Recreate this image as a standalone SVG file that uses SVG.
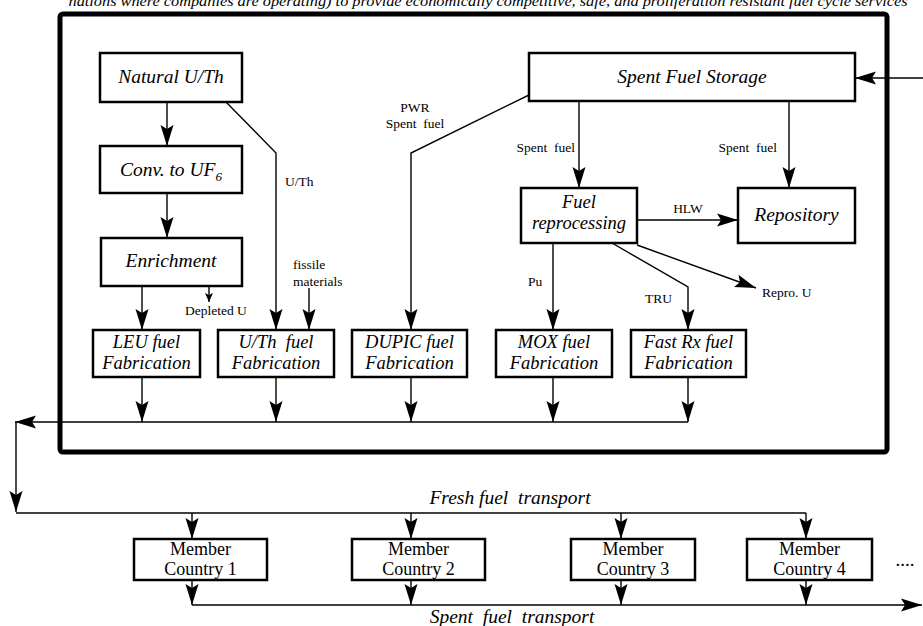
<svg xmlns="http://www.w3.org/2000/svg" width="923" height="626" viewBox="0 0 923 626">
<style>
.box{fill:#fff;stroke:#000;stroke-width:2.5}
.t{font-family:"Liberation Serif","Times New Roman",serif;font-style:italic;font-size:19.5px;text-anchor:middle;fill:#000}
.t2{font-size:18.5px}
.m{font-family:"Liberation Serif","Times New Roman",serif;font-size:18px;text-anchor:middle;fill:#000}
.s{font-family:"Liberation Serif","Times New Roman",serif;font-size:13.5px;fill:#000}
.c{fill:none;stroke:#000;stroke-width:1.4}
.a{marker-end:url(#ah)}
</style>
<defs>
<marker id="ah" markerUnits="userSpaceOnUse" markerWidth="22" markerHeight="14" viewBox="0 0 22 14" refX="21" refY="7" orient="auto"><path d="M0,0.5 L21,7 L0,13.5 L4,7 Z" fill="#000"/></marker>
<marker id="ahs" markerUnits="userSpaceOnUse" markerWidth="10" markerHeight="8" viewBox="0 0 10 8" refX="9" refY="4" orient="auto"><path d="M0,0 L9,4 L0,8 L2,4 Z" fill="#000"/></marker>
</defs>
<rect width="923" height="626" fill="#fff"/>
<text x="488" y="5.5" font-family="Liberation Serif, serif" font-style="italic" font-size="14" text-anchor="middle" textLength="839" lengthAdjust="spacingAndGlyphs">nations where companies are operating) to provide economically competitive, safe, and proliferation resistant fuel cycle services</text>
<rect id="frame" x="60" y="14" width="827" height="438" rx="3" fill="none" stroke="#000" stroke-width="5"/>

<g id="connectors">
<path class="c a" d="M167,102 V146"/>
<path class="c a" d="M167,193 V238"/>
<path class="c a" d="M142,286 V330"/>
<path class="c" d="M209,286 V302" marker-end="url(#ahs)"/>
<path class="c a" d="M226,102 L276,153 V330"/>
<path class="c a" d="M309,288 V330"/>
<path class="c a" d="M529,95 L411,153 V330"/>
<path class="c a" d="M923,78 H855"/>
<path class="c a" d="M579,101 V188"/>
<path class="c a" d="M789,101 V188"/>
<path class="c a" d="M637,220 H738"/>
<path class="c a" d="M553,243 V330"/>
<path class="c a" d="M612,243 L688,287 V330"/>
<path class="c a" d="M637,245 L756,288"/>
<path class="c a" d="M142,377 V422"/>
<path class="c a" d="M276,377 V422"/>
<path class="c a" d="M411,377 V422"/>
<path class="c a" d="M553,377 V422"/>
<path class="c a" d="M688,377 V422"/>
<path class="c a" d="M688,422 H15"/>
<path class="c a" d="M16,422 V512"/>
<path class="c" d="M16,513 H806"/>
<path class="c a" d="M192,513 V539"/>
<path class="c a" d="M411,513 V539"/>
<path class="c a" d="M621,513 V539"/>
<path class="c a" d="M806,513 V539"/>
<path class="c a" d="M192,580 V605"/>
<path class="c a" d="M411,580 V605"/>
<path class="c a" d="M621,580 V605"/>
<path class="c a" d="M806,580 V605"/>
<path class="c a" d="M192,605 H922"/>
</g>

<g id="labels">
<text class="s" x="285" y="186">U/Th</text>
<text class="s" x="293" y="269">fissile</text>
<text class="s" x="293" y="286">materials</text>
<text class="s" x="185" y="315">Depleted U</text>
<text class="s" x="415" y="112" text-anchor="middle">PWR</text>
<text class="s" x="415" y="128" text-anchor="middle">Spent&#160; fuel</text>
<text class="s" x="575" y="152" text-anchor="end">Spent&#160; fuel</text>
<text class="s" x="777" y="152" text-anchor="end">Spent&#160; fuel</text>
<text class="s" x="688" y="213" text-anchor="middle">HLW</text>
<text class="s" x="528" y="286">Pu</text>
<text class="s" x="645" y="303">TRU</text>
<text class="s" x="762" y="297">Repro. U</text>
<text class="t" x="510" y="504" font-size="18.5">Fresh fuel&#160; transport</text>
<text class="t" x="512" y="623" font-size="18.5">Spent&#160; fuel&#160; transport</text>
<text x="905" y="566" font-family="Liberation Serif, serif" font-size="19" text-anchor="middle">....</text>
</g>

<g id="natural"><rect class="box" x="100" y="53" width="142" height="49"/><text class="t" x="171" y="83">Natural U/Th</text></g>
<g id="conv"><rect class="box" x="100" y="146" width="142" height="47"/><text class="t" x="171" y="176">Conv. to UF<tspan font-size="13" dy="5">6</tspan></text></g>
<g id="enrich"><rect class="box" x="101" y="238" width="141" height="48"/><text class="t" x="171" y="267">Enrichment</text></g>
<g id="leu"><rect class="box" x="93" y="330" width="107" height="47"/><text class="t t2" x="146.5" y="348">LEU fuel</text><text class="t t2" x="146.5" y="369">Fabrication</text></g>
<g id="uth"><rect class="box" x="218" y="330" width="116" height="47"/><text class="t t2" x="276" y="348">U/Th&#160; fuel</text><text class="t t2" x="276" y="369">Fabrication</text></g>
<g id="dupic"><rect class="box" x="352" y="330" width="115" height="47"/><text class="t t2" x="409.5" y="348">DUPIC fuel</text><text class="t t2" x="409.5" y="369">Fabrication</text></g>
<g id="mox"><rect class="box" x="496" y="330" width="116" height="47"/><text class="t t2" x="554" y="348">MOX fuel</text><text class="t t2" x="554" y="369">Fabrication</text></g>
<g id="fastrx"><rect class="box" x="631" y="330" width="115" height="47"/><text class="t t2" x="688.5" y="348">Fast Rx fuel</text><text class="t t2" x="688.5" y="369">Fabrication</text></g>
<g id="storage"><rect class="box" x="529" y="53" width="326" height="48"/><text class="t" x="692" y="83">Spent Fuel Storage</text></g>
<g id="reproc"><rect class="box" x="521" y="188" width="116" height="55"/><text class="t t2" x="579" y="208">Fuel</text><text class="t t2" x="579" y="229">reprocessing</text></g>
<g id="repo"><rect class="box" x="738" y="188" width="117" height="55"/><text class="t" x="796.5" y="221">Repository</text></g>
<g id="mc1"><rect class="box" x="134" y="539" width="133" height="41"/><text class="m" x="200.5" y="555">Member</text><text class="m" x="200.5" y="575">Country 1</text></g>
<g id="mc2"><rect class="box" x="352" y="539" width="133" height="41"/><text class="m" x="418.5" y="555">Member</text><text class="m" x="418.5" y="575">Country 2</text></g>
<g id="mc3"><rect class="box" x="571" y="539" width="124" height="41"/><text class="m" x="633" y="555">Member</text><text class="m" x="633" y="575">Country 3</text></g>
<g id="mc4"><rect class="box" x="747" y="539" width="125" height="41"/><text class="m" x="809.5" y="555">Member</text><text class="m" x="809.5" y="575">Country 4</text></g>
</svg>
